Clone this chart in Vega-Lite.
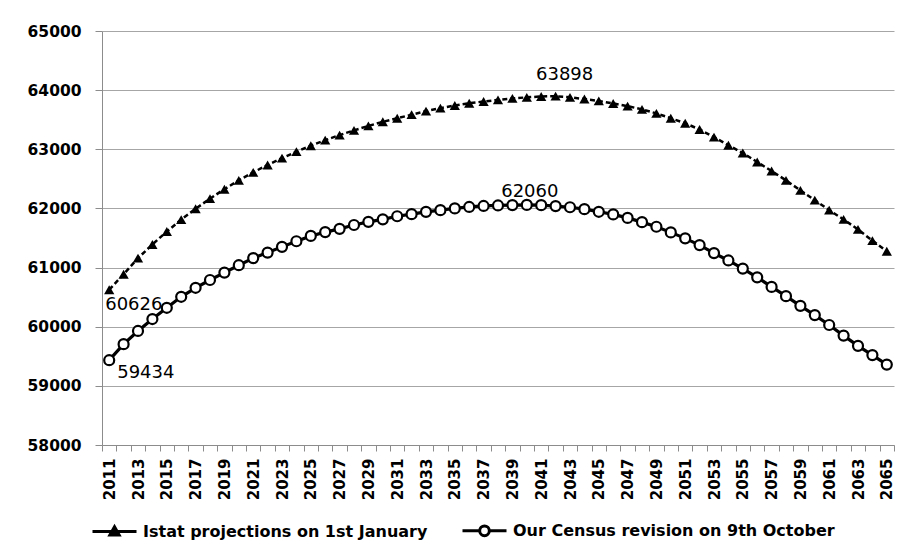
{
  "$schema": "https://vega.github.io/schema/vega-lite/v6.json",
  "width": 792,
  "height": 414,
  "autosize": "none",
  "padding": {"left": 102, "top": 31, "right": 10, "bottom": 108},
  "background": "white",
  "config": {
    "view": {"stroke": null},
    "font": "DejaVu Sans"
  },
  "data": {
    "values": [
      {"year": 2011, "series": "Istat projections on 1st January", "value": 60626},
      {"year": 2012, "series": "Istat projections on 1st January", "value": 60887},
      {"year": 2013, "series": "Istat projections on 1st January", "value": 61160},
      {"year": 2014, "series": "Istat projections on 1st January", "value": 61390},
      {"year": 2015, "series": "Istat projections on 1st January", "value": 61610},
      {"year": 2016, "series": "Istat projections on 1st January", "value": 61810},
      {"year": 2017, "series": "Istat projections on 1st January", "value": 61995},
      {"year": 2018, "series": "Istat projections on 1st January", "value": 62165},
      {"year": 2019, "series": "Istat projections on 1st January", "value": 62325},
      {"year": 2020, "series": "Istat projections on 1st January", "value": 62475},
      {"year": 2021, "series": "Istat projections on 1st January", "value": 62610},
      {"year": 2022, "series": "Istat projections on 1st January", "value": 62735},
      {"year": 2023, "series": "Istat projections on 1st January", "value": 62850},
      {"year": 2024, "series": "Istat projections on 1st January", "value": 62960},
      {"year": 2025, "series": "Istat projections on 1st January", "value": 63060},
      {"year": 2026, "series": "Istat projections on 1st January", "value": 63155},
      {"year": 2027, "series": "Istat projections on 1st January", "value": 63240},
      {"year": 2028, "series": "Istat projections on 1st January", "value": 63320},
      {"year": 2029, "series": "Istat projections on 1st January", "value": 63395},
      {"year": 2030, "series": "Istat projections on 1st January", "value": 63465},
      {"year": 2031, "series": "Istat projections on 1st January", "value": 63525},
      {"year": 2032, "series": "Istat projections on 1st January", "value": 63585},
      {"year": 2033, "series": "Istat projections on 1st January", "value": 63645},
      {"year": 2034, "series": "Istat projections on 1st January", "value": 63695},
      {"year": 2035, "series": "Istat projections on 1st January", "value": 63740},
      {"year": 2036, "series": "Istat projections on 1st January", "value": 63778},
      {"year": 2037, "series": "Istat projections on 1st January", "value": 63808},
      {"year": 2038, "series": "Istat projections on 1st January", "value": 63835},
      {"year": 2039, "series": "Istat projections on 1st January", "value": 63860},
      {"year": 2040, "series": "Istat projections on 1st January", "value": 63878},
      {"year": 2041, "series": "Istat projections on 1st January", "value": 63893},
      {"year": 2042, "series": "Istat projections on 1st January", "value": 63898},
      {"year": 2043, "series": "Istat projections on 1st January", "value": 63878},
      {"year": 2044, "series": "Istat projections on 1st January", "value": 63850},
      {"year": 2045, "series": "Istat projections on 1st January", "value": 63818},
      {"year": 2046, "series": "Istat projections on 1st January", "value": 63775},
      {"year": 2047, "series": "Istat projections on 1st January", "value": 63730},
      {"year": 2048, "series": "Istat projections on 1st January", "value": 63675},
      {"year": 2049, "series": "Istat projections on 1st January", "value": 63607},
      {"year": 2050, "series": "Istat projections on 1st January", "value": 63525},
      {"year": 2051, "series": "Istat projections on 1st January", "value": 63440},
      {"year": 2052, "series": "Istat projections on 1st January", "value": 63335},
      {"year": 2053, "series": "Istat projections on 1st January", "value": 63205},
      {"year": 2054, "series": "Istat projections on 1st January", "value": 63068},
      {"year": 2055, "series": "Istat projections on 1st January", "value": 62937},
      {"year": 2056, "series": "Istat projections on 1st January", "value": 62785},
      {"year": 2057, "series": "Istat projections on 1st January", "value": 62632},
      {"year": 2058, "series": "Istat projections on 1st January", "value": 62475},
      {"year": 2059, "series": "Istat projections on 1st January", "value": 62306},
      {"year": 2060, "series": "Istat projections on 1st January", "value": 62140},
      {"year": 2061, "series": "Istat projections on 1st January", "value": 61971},
      {"year": 2062, "series": "Istat projections on 1st January", "value": 61814},
      {"year": 2063, "series": "Istat projections on 1st January", "value": 61645},
      {"year": 2064, "series": "Istat projections on 1st January", "value": 61455},
      {"year": 2065, "series": "Istat projections on 1st January", "value": 61275},
      {"year": 2011, "series": "Our Census revision on 9th October", "value": 59434},
      {"year": 2012, "series": "Our Census revision on 9th October", "value": 59705},
      {"year": 2013, "series": "Our Census revision on 9th October", "value": 59928},
      {"year": 2014, "series": "Our Census revision on 9th October", "value": 60130},
      {"year": 2015, "series": "Our Census revision on 9th October", "value": 60320},
      {"year": 2016, "series": "Our Census revision on 9th October", "value": 60506},
      {"year": 2017, "series": "Our Census revision on 9th October", "value": 60658},
      {"year": 2018, "series": "Our Census revision on 9th October", "value": 60790},
      {"year": 2019, "series": "Our Census revision on 9th October", "value": 60915},
      {"year": 2020, "series": "Our Census revision on 9th October", "value": 61040},
      {"year": 2021, "series": "Our Census revision on 9th October", "value": 61160},
      {"year": 2022, "series": "Our Census revision on 9th October", "value": 61253},
      {"year": 2023, "series": "Our Census revision on 9th October", "value": 61350},
      {"year": 2024, "series": "Our Census revision on 9th October", "value": 61445},
      {"year": 2025, "series": "Our Census revision on 9th October", "value": 61535},
      {"year": 2026, "series": "Our Census revision on 9th October", "value": 61600},
      {"year": 2027, "series": "Our Census revision on 9th October", "value": 61655},
      {"year": 2028, "series": "Our Census revision on 9th October", "value": 61720},
      {"year": 2029, "series": "Our Census revision on 9th October", "value": 61773},
      {"year": 2030, "series": "Our Census revision on 9th October", "value": 61815},
      {"year": 2031, "series": "Our Census revision on 9th October", "value": 61868},
      {"year": 2032, "series": "Our Census revision on 9th October", "value": 61903},
      {"year": 2033, "series": "Our Census revision on 9th October", "value": 61942},
      {"year": 2034, "series": "Our Census revision on 9th October", "value": 61971},
      {"year": 2035, "series": "Our Census revision on 9th October", "value": 62000},
      {"year": 2036, "series": "Our Census revision on 9th October", "value": 62025},
      {"year": 2037, "series": "Our Census revision on 9th October", "value": 62042},
      {"year": 2038, "series": "Our Census revision on 9th October", "value": 62050},
      {"year": 2039, "series": "Our Census revision on 9th October", "value": 62056},
      {"year": 2040, "series": "Our Census revision on 9th October", "value": 62060},
      {"year": 2041, "series": "Our Census revision on 9th October", "value": 62055},
      {"year": 2042, "series": "Our Census revision on 9th October", "value": 62040},
      {"year": 2043, "series": "Our Census revision on 9th October", "value": 62020},
      {"year": 2044, "series": "Our Census revision on 9th October", "value": 61988},
      {"year": 2045, "series": "Our Census revision on 9th October", "value": 61943},
      {"year": 2046, "series": "Our Census revision on 9th October", "value": 61899},
      {"year": 2047, "series": "Our Census revision on 9th October", "value": 61840},
      {"year": 2048, "series": "Our Census revision on 9th October", "value": 61768},
      {"year": 2049, "series": "Our Census revision on 9th October", "value": 61690},
      {"year": 2050, "series": "Our Census revision on 9th October", "value": 61595},
      {"year": 2051, "series": "Our Census revision on 9th October", "value": 61494},
      {"year": 2052, "series": "Our Census revision on 9th October", "value": 61380},
      {"year": 2053, "series": "Our Census revision on 9th October", "value": 61245},
      {"year": 2054, "series": "Our Census revision on 9th October", "value": 61120},
      {"year": 2055, "series": "Our Census revision on 9th October", "value": 60983},
      {"year": 2056, "series": "Our Census revision on 9th October", "value": 60835},
      {"year": 2057, "series": "Our Census revision on 9th October", "value": 60673},
      {"year": 2058, "series": "Our Census revision on 9th October", "value": 60517},
      {"year": 2059, "series": "Our Census revision on 9th October", "value": 60353},
      {"year": 2060, "series": "Our Census revision on 9th October", "value": 60197},
      {"year": 2061, "series": "Our Census revision on 9th October", "value": 60029},
      {"year": 2062, "series": "Our Census revision on 9th October", "value": 59850},
      {"year": 2063, "series": "Our Census revision on 9th October", "value": 59677},
      {"year": 2064, "series": "Our Census revision on 9th October", "value": 59520},
      {"year": 2065, "series": "Our Census revision on 9th October", "value": 59359}
    ]
  },
  "encoding": {
    "x": {
      "field": "year",
      "type": "ordinal",
      "bandPosition": 0.5,
      "scale": {"type": "band", "paddingInner": 0, "paddingOuter": 0},
      "axis": {
        "title": null,
        "labelAngle": -90,
        "labelAlign": "right",
        "labelBaseline": "middle",
        "labelFont": "DejaVu Sans",
        "labelFontWeight": "bold",
        "labelFontSize": 15,
        "labelColor": "black",
        "labelPadding": 7,
        "labelOverlap": false,
        "labelExpr": "(datum.value - 2011) % 2 == 0 ? datum.label : ''",
        "tickBand": "extent",
        "tickColor": "#8c8c8c",
        "tickSize": 6,
        "domainColor": "#8c8c8c",
        "grid": false
      }
    },
    "y": {
      "field": "value",
      "type": "quantitative",
      "scale": {"domain": [58000, 65000], "nice": false, "zero": false},
      "axis": {
        "title": null,
        "values": [58000, 59000, 60000, 61000, 62000, 63000, 64000, 65000],
        "format": "d",
        "labelFont": "DejaVu Sans",
        "labelFontWeight": "bold",
        "labelFontSize": 15.5,
        "labelColor": "black",
        "labelPadding": 14,
        "tickColor": "#8c8c8c",
        "tickSize": 7,
        "domainColor": "#8c8c8c",
        "gridColor": "#a6a6a6",
        "gridWidth": 1
      }
    }
  },
  "layer": [
    {
      "transform": [{"filter": "datum.series == 'Istat projections on 1st January'"}],
      "mark": {"type": "line", "strokeWidth": 2.5, "strokeDash": [5, 3]},
      "encoding": {
        "color": {
          "field": "series",
          "type": "nominal",
          "scale": {"range": ["black", "black"]},
          "legend": {
            "title": null,
            "orient": "none",
            "direction": "horizontal",
            "legendX": -11,
            "legendY": 476,
            "columnPadding": 28,
            "labelFont": "DejaVu Sans",
            "labelFontWeight": "bold",
            "labelFontSize": 16,
            "labelLimit": 500,
            "labelColor": "black",
            "labelOffset": 5,
            "symbolSize": 1936,
            "symbolStrokeWidth": 3,
            "symbolStrokeColor": "black",
            "encode": {
              "symbols": {
                "update": {
                  "shape": {"signal": "datum.value === 'Istat projections on 1st January' ? 'M-1,0H1M0,-0.22L0.21,0.15L-0.21,0.15Z' : 'M-1,0H-0.22M0.22,0H1M0.22,0A0.22,0.22,0,1,1,-0.22,0A0.22,0.22,0,1,1,0.22,0Z'"},
                  "fill": {"signal": "datum.value === 'Istat projections on 1st January' ? 'black' : 'white'"},
                  "stroke": {"value": "black"},
                  "strokeDash": {"value": []},
                  "strokeWidth": {"value": 3},
                  "opacity": {"value": 1}
                }
              }
            }
          }
        }
      }
    },
    {
      "transform": [{"filter": "datum.series == 'Our Census revision on 9th October'"}],
      "mark": {"type": "line", "strokeWidth": 3.2},
      "encoding": {
        "color": {"field": "series", "type": "nominal"}
      }
    },
    {
      "transform": [{"filter": "datum.series == 'Istat projections on 1st January'"}],
      "mark": {"type": "point", "shape": "triangle-up", "filled": true, "color": "black", "size": 105, "opacity": 1}
    },
    {
      "transform": [{"filter": "datum.series == 'Our Census revision on 9th October'"}],
      "mark": {"type": "point", "shape": "circle", "filled": true, "fill": "white", "stroke": "black", "strokeWidth": 2.2, "size": 100, "opacity": 1}
    },
    {
      "transform": [{"filter": "datum.series == 'Istat projections on 1st January' && datum.year == 2011"}],
      "mark": {"type": "text", "align": "left", "baseline": "middle", "dx": -4, "dy": 15, "fontSize": 18, "font": "DejaVu Sans", "color": "black"},
      "encoding": {"text": {"field": "value", "type": "quantitative", "format": "d"}}
    },
    {
      "transform": [{"filter": "datum.series == 'Our Census revision on 9th October' && datum.year == 2011"}],
      "mark": {"type": "text", "align": "left", "baseline": "middle", "dx": 8, "dy": 13, "fontSize": 18, "font": "DejaVu Sans", "color": "black"},
      "encoding": {"text": {"field": "value", "type": "quantitative", "format": "d"}}
    },
    {
      "transform": [{"filter": "datum.series == 'Istat projections on 1st January' && datum.year == 2042"}],
      "mark": {"type": "text", "align": "center", "baseline": "middle", "dx": 9, "dy": -21, "fontSize": 18, "font": "DejaVu Sans", "color": "black"},
      "encoding": {"text": {"field": "value", "type": "quantitative", "format": "d"}}
    },
    {
      "transform": [{"filter": "datum.series == 'Our Census revision on 9th October' && datum.year == 2040"}],
      "mark": {"type": "text", "align": "center", "baseline": "middle", "dx": 3, "dy": -13, "fontSize": 18, "font": "DejaVu Sans", "color": "black"},
      "encoding": {"text": {"field": "value", "type": "quantitative", "format": "d"}}
    }
  ]
}
